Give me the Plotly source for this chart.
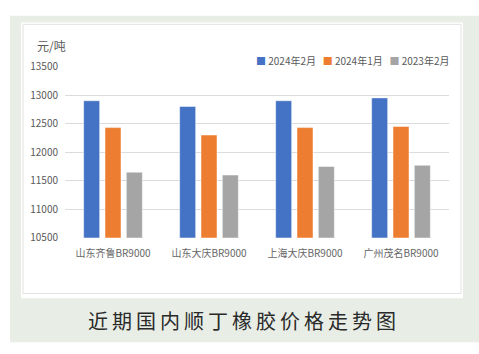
import plotly.graph_objects as go

categories = ["山东齐鲁BR9000", "山东大庆BR9000", "上海大庆BR9000", "广州茂名BR9000"]
series_names = ["2024年2月", "2024年1月", "2023年2月"]
feb_2024 = [12900, 12800, 12900, 12950]
jan_2024 = [12430, 12300, 12430, 12450]
feb_2023 = [11650, 11600, 11750, 11770]
colors = ["#4472C4", "#ED7D31", "#A5A5A5"]
y_ticks = [10500, 11000, 11500, 12000, 12500, 13000, 13500]
unit_label = "元/吨"
caption = "近期国内顺丁橡胶价格走势图"

W, H = 479, 354
FONT = "Noto Sans CJK SC"

fig = go.Figure()
for name, vals, col in zip(series_names, [feb_2024, jan_2024, feb_2023], colors):
    fig.add_trace(go.Bar(
        x=categories, y=vals, name=name,
        marker=dict(color=col, line=dict(color="rgba(255,255,255,0.6)", width=0.8)),
        showlegend=False,
    ))

def px(x):
    return x / W

def py(y):
    return 1 - y / H

shapes = [
    dict(type="rect", xref="paper", yref="paper", x0=px(10), x1=px(479), y0=py(7), y1=py(348),
         fillcolor="#E8EEE6", line=dict(width=0), layer="below"),
    dict(type="rect", xref="paper", yref="paper", x0=px(21), x1=px(463), y0=py(14), y1=py(302),
         fillcolor="#FFFFFF", line=dict(width=0), layer="below"),
    dict(type="rect", xref="paper", yref="paper", x0=px(23), x1=px(461), y0=py(16), y1=py(297),
         fillcolor="#FFFFFF", line=dict(color="#E2E2E2", width=1), layer="below"),
]

legend_text = "&nbsp;&nbsp;&nbsp;".join(
    f'<span style="color:{c}">■</span> {n}' for n, c in zip(series_names, colors)
)

spaced_caption = "\u2009".join(caption)

annotations = [
    dict(text=unit_label, xref="paper", yref="paper", x=px(35), y=py(38), xanchor="left",
         yanchor="middle", showarrow=False, font=dict(family=FONT, size=12, color="#595959")),
    dict(text=legend_text, xref="paper", yref="paper", x=px(451), y=py(54), xanchor="right",
         yanchor="middle", showarrow=False, font=dict(family=FONT, size=10, color="#595959")),
    dict(text=spaced_caption, xref="paper", yref="paper", x=px(242), y=py(325), xanchor="center",
         yanchor="middle", showarrow=False, font=dict(family=FONT, size=20, color="#2A2A2A")),
]

fig.update_layout(
    width=W, height=H,
    margin=dict(l=0, r=0, t=0, b=0),
    paper_bgcolor="#FFFFFF",
    plot_bgcolor="rgba(0,0,0,0)",
    barmode="group",
    bargap=0.333,
    bargroupgap=0.25,
    shapes=shapes,
    annotations=annotations,
    font=dict(family=FONT, size=10, color="#595959"),
    xaxis=dict(
        domain=[px(65), px(449)],
        showgrid=False, showline=False, zeroline=False,
        tickfont=dict(family=FONT, size=10, color="#666666"),
        ticks="", ticklabelstandoff=8,
    ),
    yaxis=dict(
        domain=[py(239), py(60)],
        range=[10500, 13500],
        tickvals=y_ticks,
        ticktext=[str(v) for v in y_ticks],
        showgrid=True, gridcolor="#DCDCDC", gridwidth=1,
        zeroline=False, showline=False,
        tickfont=dict(family=FONT, size=10, color="#595959"),
        ticks="", ticklabelstandoff=6,
    ),
)

fig.write_html("out.html")
